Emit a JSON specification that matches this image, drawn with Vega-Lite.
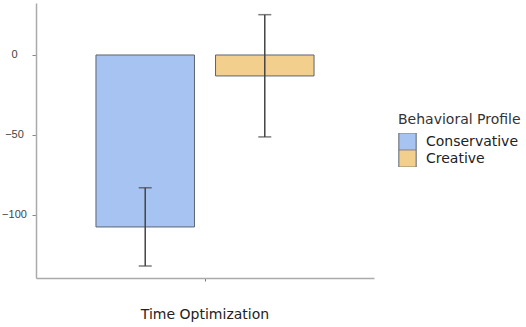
{
  "$schema": "https://vega.github.io/schema/vega-lite/v6.json",
  "width": 338,
  "height": 275,
  "autosize": "none",
  "padding": {"left": 36, "top": 3, "right": 152, "bottom": 49},
  "background": "white",
  "config": {
    "view": {"stroke": null},
    "font": "DejaVu Sans"
  },
  "data": {
    "values": [
      {"task": "Time Optimization", "profile": "Conservative", "mean": -107.5, "lo": -131.9, "hi": -83},
      {"task": "Time Optimization", "profile": "Creative", "mean": -13.1, "lo": -51.2, "hi": 25.2}
    ]
  },
  "encoding": {
    "x": {
      "field": "task", "type": "nominal",
      "scale": {"paddingInner": 0, "paddingOuter": 0.275},
      "axis": {
        "title": null, "labelAngle": 0, "labelFontSize": 14, "labelColor": "#222",
        "labelPadding": 26, "tickSize": 3, "tickColor": "#777",
        "domainColor": "#aaa", "domainWidth": 1.5
      }
    },
    "xOffset": {"field": "profile", "type": "nominal", "scale": {"paddingInner": 0.176, "paddingOuter": 0}}
  },
  "layer": [
    {
      "mark": {"type": "bar", "stroke": "#5c6470", "strokeWidth": 1},
      "encoding": {
        "y": {
          "field": "mean", "type": "quantitative",
          "scale": {"domain": [-139.4, 32.5], "nice": false, "zero": false},
          "axis": {
            "title": null, "values": [0, -50, -100], "grid": false,
            "labelFont": "Liberation Sans",
            "labelFontSize": 11, "labelColor": "#444", "labelAlign": "center",
            "labelPadding": 18, "tickSize": 4, "tickColor": "#888",
            "domainColor": "#aaa", "domainWidth": 1.5
          }
        },
        "y2": {"datum": 0},
        "color": {
          "field": "profile", "type": "nominal",
          "scale": {"domain": ["Conservative", "Creative"], "range": ["#a7c3f2", "#f3cf8d"]},
          "legend": {
            "title": "Behavioral Profile",
            "orient": "none", "legendX": 362, "legendY": 110,
            "titleFontSize": 14, "titleFontWeight": "normal", "titleColor": "#333",
            "labelFontSize": 14, "labelColor": "#222",
            "symbolType": "square", "symbolSize": 300, "symbolStrokeColor": "#5c6470",
            "symbolStrokeWidth": 1, "rowPadding": 0, "clipHeight": 17, "labelOffset": 9, "titlePadding": 6
          }
        }
      }
    },
    {
      "mark": {"type": "rule", "color": "#444", "strokeWidth": 1.5},
      "encoding": {
        "y": {"field": "lo", "type": "quantitative"},
        "y2": {"field": "hi"}
      }
    },
    {
      "mark": {"type": "tick", "color": "#444", "size": 13, "thickness": 1.5, "orient": "horizontal"},
      "encoding": {"y": {"field": "lo", "type": "quantitative"}}
    },
    {
      "mark": {"type": "tick", "color": "#444", "size": 13, "thickness": 1.5, "orient": "horizontal"},
      "encoding": {"y": {"field": "hi", "type": "quantitative"}}
    }
  ]
}
